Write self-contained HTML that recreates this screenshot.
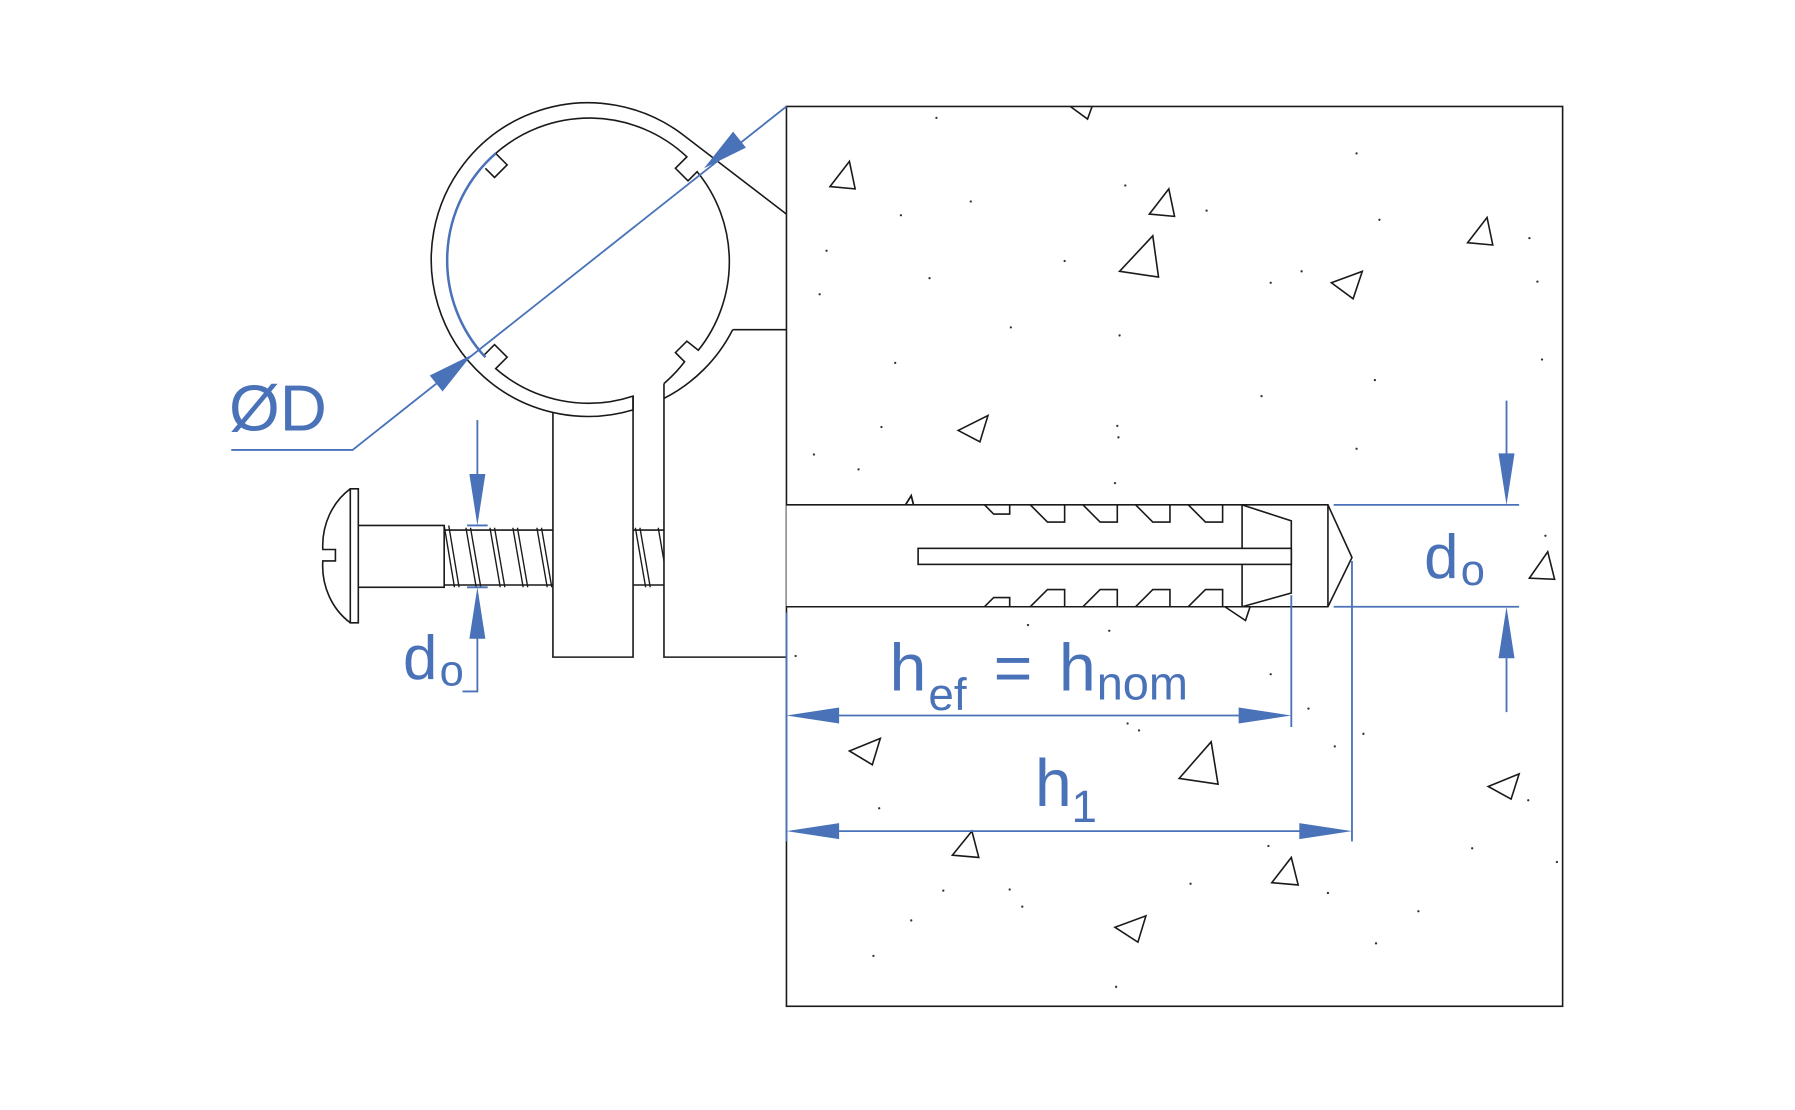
<!DOCTYPE html>
<html><head><meta charset="utf-8"><style>
html,body{margin:0;padding:0;background:#fff;}
svg{display:block;}
text{font-family:"Liberation Sans",sans-serif;fill:#4a72b8;}
</style></head><body>
<svg width="1795" height="1110" viewBox="0 0 1568 969.6" preserveAspectRatio="none" xmlns="http://www.w3.org/2000/svg">
<g fill="none" stroke="#1a1a1a" stroke-width="1.4">
<rect x="687" y="93" width="678" height="786" fill="#fff"/>
<path d="M725,163 L742,141 L747,165 Z M1004,187 L1021,165 L1026,189 Z M978,237 L1007,206 L1012,242 Z M1282,212 L1299,190 L1304,214 Z M1163,247 L1190,237 L1182,261 Z M837,376 L863,363 L856,386 Z M1336,505 L1352,482 L1358,506 Z M742,656 L769,645 L762,668 Z M1030,680 L1058,648 L1064,685 Z M1300,687 L1327,676 L1320,698 Z M832,747 L849,726 L855,749 Z M1111,771 L1128,749 L1134,773 Z M974,810 L1001,800 L994,823 Z M935,93 L950,104 L954,93"/>
<path d="M791,441 L796,433 L798,441 M1070,530 L1088,542 L1092,530"/>
<path d="M687,441 H1160 L1181,487 L1160,530 H687" fill="#fff"/>
<path d="M791,441 L796,433 L798,441"/>
<rect x="802" y="479" width="326" height="14"/>
<path d="M1085,441 L1128,455 V518 L1085,530 M1085,441 V479 M1085,493 V530 M1160,441 V530"/>
<path d="M860,441 L868,449 H882 V441 M900,441 L915,456 H930 V441 M946,441 L961,456 H976 V441 M992,441 L1007,456 H1022 V441 M1038,441 L1053,456 H1068 V441"/>
<path d="M860,530 L868,522 H882 V530 M900,530 L915,515 H930 V530 M946,530 L961,515 H976 V530 M992,530 L1007,515 H1022 V530 M1038,530 L1053,515 H1068 V530"/>
<path d="M597,118 A137,137 0 1 0 553,358 V346 A124,124 0 0 1 433,322 L443,312 L432,301 L423,310 M597,118 L687,187 M640,288 H687 M640,288 A137,137 0 0 1 580,348"/>
<path d="M433,134 A124,124 0 0 1 600,137 L590,147 L601,158 L609,150 A124,124 0 0 1 610,306 L600,298 L590,308 L598,316 A124,124 0 0 1 580,335"/>
<path d="M433,134 L443,144 L432,155 L424,147"/>
<path d="M483,360 V574 H553 V346 M580,335 V574 H687"/>
<path d="M306,427 H313 V544 H306 Z M306,427 A55,60 0 0 0 282,480 H293 V490 H282 A55,60 0 0 0 306,544" fill="#fff"/>
<rect x="313" y="459" width="75" height="54" fill="#fff"/>
<path d="M388,463 H483 M388,511 H483 M553,463 H580 M553,511 H580"/>
<g stroke-width="1.2">
<path d="M388,459 L397,513 M392,459 L401,513 M407,461 L416,513 M411,461 L420,513 M428,461 L437,513 M432,461 L441,513 M448,461 L457,513 M452,461 L461,513 M469,461 L478,513 M473,461 L482,513 M555,461 L564,513 M559,461 L568,513 M575,461 L580,490"/>
</g>
</g>
<g fill="#333">
<circle cx="818" cy="103" r="1"/><circle cx="1185" cy="134" r="1"/><circle cx="787" cy="188" r="1"/><circle cx="848" cy="176" r="1"/><circle cx="983" cy="162" r="1"/><circle cx="1054" cy="184" r="1"/><circle cx="1205" cy="192" r="1"/><circle cx="1336" cy="208" r="1"/><circle cx="722" cy="219" r="1"/><circle cx="930" cy="228" r="1"/><circle cx="812" cy="243" r="1"/><circle cx="716" cy="257" r="1"/><circle cx="1110" cy="247" r="1"/><circle cx="1137" cy="237" r="1"/><circle cx="1343" cy="246" r="1"/><circle cx="883" cy="286" r="1"/><circle cx="978" cy="293" r="1"/><circle cx="782" cy="317" r="1"/><circle cx="1201" cy="332" r="1"/><circle cx="1347" cy="314" r="1"/><circle cx="1102" cy="346" r="1"/><circle cx="770" cy="373" r="1"/><circle cx="976" cy="372" r="1"/><circle cx="977" cy="382" r="1"/><circle cx="711" cy="397" r="1"/><circle cx="750" cy="410" r="1"/><circle cx="1185" cy="392" r="1"/><circle cx="974" cy="422" r="1"/><circle cx="1350" cy="468" r="1"/><circle cx="898" cy="546" r="1"/><circle cx="969" cy="551" r="1"/><circle cx="695" cy="573" r="1"/><circle cx="1110" cy="589" r="1"/><circle cx="1143" cy="619" r="1"/><circle cx="985" cy="632" r="1"/><circle cx="995" cy="638" r="1"/><circle cx="1191" cy="641" r="1"/><circle cx="1166" cy="652" r="1"/><circle cx="768" cy="706" r="1"/><circle cx="1335" cy="699" r="1"/><circle cx="1108" cy="739" r="1"/><circle cx="1286" cy="741" r="1"/><circle cx="1360" cy="753" r="1"/><circle cx="824" cy="778" r="1"/><circle cx="882" cy="777" r="1"/><circle cx="893" cy="792" r="1"/><circle cx="1040" cy="772" r="1"/><circle cx="1160" cy="780" r="1"/><circle cx="1239" cy="796" r="1"/><circle cx="796" cy="804" r="1"/><circle cx="1202" cy="824" r="1"/><circle cx="763" cy="835" r="1"/><circle cx="975" cy="862" r="1"/>
</g>
<g stroke="#4a72b8" stroke-width="1.6" fill="none">
<path d="M202,393 H308 L687,93"/>
<path d="M433,134 A124,124 0 0 0 424,312" stroke-width="2.2"/>
<path d="M1165,441 H1327 M1165,530 H1327 M1316,350 V400 M1316,575 V622"/>
<path d="M687,535 V735 M1128,520 V635 M1181,490 V735 M730,625 H1085 M730,726 H1137"/>
<path d="M417,367 V440 M417,555 V604 H404 M408,459 H426 M408,513 H426"/>
</g>
<g fill="#4a72b8">
<path d="M615,147 L651.6,129 L640.4,115 Z"/>
<path d="M412,310 L386.6,342 L375.4,328 Z"/>
<path d="M1316,441 L1309,396 H1323 Z M1316,530 L1309,575 H1323 Z"/>
<path d="M687,625 L733,618 V632 Z M1128,625 L1082,618 V632 Z"/>
<path d="M687,726 L733,719 V733 Z M1181,726 L1135,719 V733 Z"/>
<path d="M417,459 L410,414 H424 Z M417,513 L410,558 H424 Z"/>
</g>
<text x="200" y="376" font-size="57">ØD</text>
<text x="1244" y="505" font-size="54">d</text><text x="1276" y="511" font-size="38">o</text>
<text x="352" y="593" font-size="54">d</text><text x="384" y="599" font-size="38">o</text>
<text x="777" y="603" font-size="58">h</text><text x="811" y="620" font-size="40">ef</text>
<text x="868" y="603" font-size="58">=</text>
<text x="925" y="603" font-size="58">h</text><text x="958" y="611" font-size="41">nom</text>
<text x="904" y="704" font-size="58">h</text><text x="936" y="718" font-size="40">1</text>
</svg>
</body></html>
